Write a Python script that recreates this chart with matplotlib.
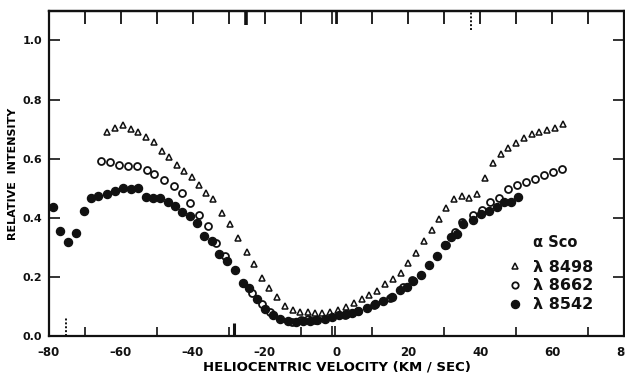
"""alpha Sco Ca II triplet profiles: relative intensity vs heliocentric velocity."""
import matplotlib
matplotlib.use("Agg")
import matplotlib.pyplot as plt

# ---------------------------------------------------------------- data
V_8498 = [-63.9, -61.6, -59.5, -57.2, -55.2, -53.1, -50.8, -48.5, -46.5, -44.5,
          -42.4, -40.3, -38.2, -36.2, -34.3, -31.8, -29.6, -27.4, -25.0, -22.9,
          -20.8, -18.7, -16.5, -14.3, -12.2, -10.2, -8.0, -6.0, -3.9, -1.8,
          0.3, 2.6, 4.9, 7.0, 9.1, 11.3, 13.5, 15.6, 17.9, 20.0,
          22.1, 24.3, 26.5, 28.6, 30.5, 32.7, 34.8, 36.9, 39.2, 41.3,
          43.5, 45.7, 47.8, 49.9, 52.2, 54.3, 56.4, 58.6, 60.8, 63.1]
I_8498 = [0.690, 0.703, 0.714, 0.700, 0.689, 0.672, 0.655, 0.625, 0.605, 0.580,
          0.560, 0.540, 0.513, 0.484, 0.465, 0.417, 0.379, 0.334, 0.286, 0.243,
          0.196, 0.162, 0.132, 0.103, 0.089, 0.083, 0.081, 0.080, 0.080, 0.083,
          0.089, 0.100, 0.112, 0.125, 0.140, 0.154, 0.176, 0.193, 0.215, 0.247,
          0.282, 0.322, 0.359, 0.396, 0.435, 0.465, 0.473, 0.467, 0.481, 0.536,
          0.585, 0.615, 0.637, 0.653, 0.671, 0.682, 0.690, 0.697, 0.704, 0.718]

V_8662 = [-65.5, -62.9, -60.5, -57.9, -55.4, -52.8, -50.8, -48.0, -45.2, -42.9,
          -40.8, -38.3, -35.8, -33.4, -30.9, -23.6, -20.8, -18.4, -12.5, -10.0,
          -8.0, -6.0, 2.5, 6.1, 10.5, 15.0, 18.4, 20.9, 30.4, 33.0,
          34.8, 37.9, 40.4, 42.7, 45.3, 47.8, 50.2, 52.8, 55.2, 57.8,
          60.2, 62.8]
I_8662 = [0.594, 0.589, 0.580, 0.577, 0.575, 0.563, 0.549, 0.529, 0.508, 0.484,
          0.451, 0.411, 0.372, 0.317, 0.272, 0.145, 0.111, 0.082, 0.050, 0.055,
          0.058, 0.057, 0.072, 0.086, 0.105, 0.130, 0.168, 0.190, 0.310, 0.353,
          0.385, 0.409, 0.426, 0.454, 0.469, 0.499, 0.510, 0.521, 0.533, 0.544,
          0.555, 0.566]

V_8542 = [-79.0, -76.9, -74.7, -72.5, -70.2, -68.3, -66.3, -63.9, -61.7, -59.5,
          -57.3, -55.2, -53.1, -51.2, -49.0, -46.9, -44.9, -43.0, -40.9, -38.9,
          -36.8, -34.7, -32.6, -30.5, -28.2, -25.9, -24.3, -22.2, -19.9, -17.8,
          -15.7, -13.5, -11.4, -9.3, -7.4, -5.5, -3.3, -1.3, 0.8, 2.6,
          4.3, 6.1, 8.4, 10.7, 13.0, 15.4, 17.7, 19.5, 21.4, 23.4,
          25.7, 28.0, 30.1, 31.9, 33.5, 35.3, 38.1, 40.2, 42.5, 44.6,
          46.6, 48.5, 50.6]
I_8542 = [0.438, 0.356, 0.319, 0.349, 0.425, 0.468, 0.473, 0.480, 0.490, 0.502,
          0.499, 0.502, 0.471, 0.469, 0.469, 0.454, 0.441, 0.420, 0.408, 0.382,
          0.338, 0.322, 0.280, 0.255, 0.224, 0.181, 0.163, 0.125, 0.091, 0.072,
          0.058, 0.052, 0.049, 0.051, 0.052, 0.056, 0.060, 0.066, 0.071, 0.076,
          0.079, 0.086, 0.095, 0.108, 0.120, 0.134, 0.157, 0.168, 0.187, 0.207,
          0.242, 0.273, 0.308, 0.336, 0.345, 0.381, 0.392, 0.415, 0.422, 0.438,
          0.453, 0.455, 0.471]

XTICKS = [-80, -60, -40, -20, 0, 20, 40, 60, 80]
YTICKS = [0.0, 0.2, 0.4, 0.6, 0.8, 1.0]
MINOR_X = list(range(-70, 80, 10))

# extra fiducial marks on the frame (velocity positions)
BOTTOM_MARKS = [-28.5, -1.3, -0.4]
TOP_MARKS = [-25.2, -1.3, -0.1]
DOTTED_BOTTOM = -75.3
DOTTED_TOP = 37.5

LEGEND_TITLE = "\u03b1 Sco"
LEGEND_LABELS = ["\u03bb 8498", "\u03bb 8662", "\u03bb 8542"]

INK = "#111111"


def main():
    plt.rcParams["font.family"] = ["DejaVu Sans"]
    fig = plt.figure(figsize=(6.25, 3.81), dpi=100)
    ax = fig.add_axes([0.0784, 0.117, 0.92, 0.855])

    # the three line profiles
    ax.plot(V_8498, I_8498, ls="none", marker="^", ms=4.2, mfc="white",
            mec=INK, mew=1.1)
    ax.plot(V_8662, I_8662, ls="none", marker="o", ms=5.0, mfc="white",
            mec=INK, mew=1.3)
    ax.plot(V_8542, I_8542, ls="none", marker="o", ms=5.8, mfc=INK, mec=INK)

    ax.set_xlim(-80, 80)
    ax.set_ylim(0, 1.1)
    for s in ax.spines.values():
        s.set_linewidth(1.6)
        s.set_color(INK)

    ax.set_xticks(XTICKS)
    ax.set_xticklabels([f"{t:d}".replace("-", "\u2013") for t in XTICKS],
                       fontsize=8.5, fontweight="bold")
    ax.set_xticks(MINOR_X, minor=True)
    ax.set_yticks(YTICKS)
    ax.set_yticklabels([f"{t:.1f}" for t in YTICKS], fontsize=8, fontweight="bold")
    ax.tick_params(axis="x", which="both", direction="in", length=6.5,
                   width=1.2, pad=7, colors=INK)
    ax.tick_params(axis="x", which="major", length=0)
    ax.tick_params(axis="y", direction="in", length=8, width=1.2, pad=5,
                   right=True, colors=INK)

    # top frame ticks are longer than the bottom ones
    top = ax.secondary_xaxis("top")
    top.set_xticks(MINOR_X)
    top.tick_params(direction="in", length=9.5, width=1.3, labeltop=False,
                    colors=INK)
    top.spines["top"].set_linewidth(1.6)

    # fiducial marks on the frame
    ax.vlines(BOTTOM_MARKS, 0, [0.047, 0.035, 0.035], colors=INK, lw=[2.2, 1.2, 1.2])
    ax.vlines(TOP_MARKS, [1.052, 1.056, 1.056], 1.1, colors=INK, lw=[2.6, 1.2, 1.2])
    ax.vlines([DOTTED_BOTTOM], 0, 0.062, colors=INK, lw=1.4, ls=(0, (1, 1)))
    ax.vlines([DOTTED_TOP], 1.034, 1.1, colors=INK, lw=1.4, ls=(0, (1, 1)))

    ax.set_xlabel("HELIOCENTRIC VELOCITY (KM / SEC)", fontsize=9.5,
                  fontweight="bold", labelpad=1)
    ax.set_ylabel("RELATIVE  INTENSITY", fontsize=8, fontweight="bold",
                  labelpad=3)

    # hand-placed key, as in the original figure
    ax.text(0.842, 0.287, LEGEND_TITLE, transform=ax.transAxes, fontsize=10.5,
            fontweight="bold", va="center", ha="left", color=INK)
    keys = [dict(marker="^", ms=4.2, mfc="white", mew=1.1),
            dict(marker="o", ms=4.6, mfc="white", mew=1.3),
            dict(marker="o", ms=5.8, mfc=INK, mew=1.0)]
    rows = [0.213, 0.155, 0.097]
    for k, lab, yy in zip(keys, LEGEND_LABELS, rows):
        ax.plot([0.81], [yy + 0.004], transform=ax.transAxes, ls="none",
                mec=INK, **k)
        ax.text(0.842, yy, lab, transform=ax.transAxes, fontsize=11.5,
                fontweight="bold", va="center", ha="left", color=INK)

    fig.savefig("out.png", dpi=100)


if __name__ == "__main__":
    main()
